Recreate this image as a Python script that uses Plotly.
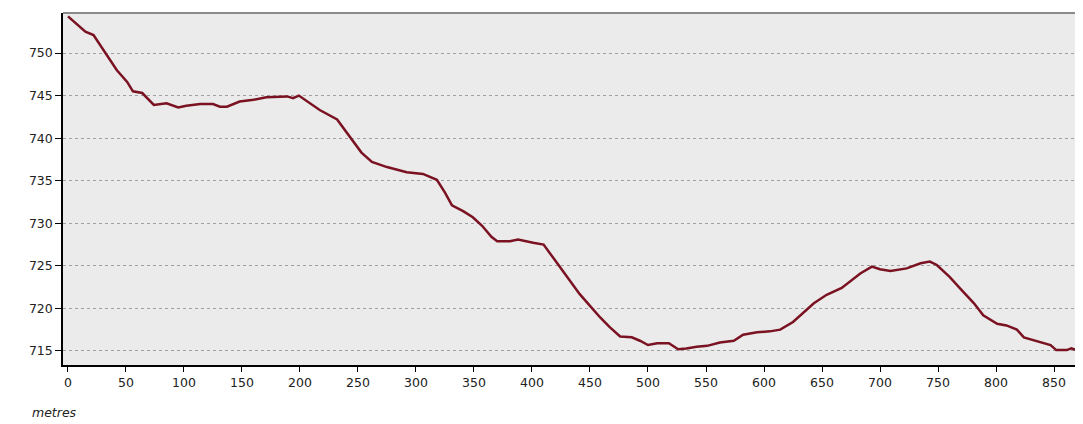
import plotly.graph_objects as go

LINE_RED = "#7a1222"
PLOT_BG = "#ebebeb"
GRID = "#a0a0a0"
TEXT = "#222222"

distance_m = [
    0, 15, 22, 30, 42, 51, 56, 64, 74, 85, 95, 102, 114, 125, 131, 137, 148, 160,
    171, 189, 194, 199, 207, 217, 232, 246, 253, 262, 275, 292, 306, 318, 325, 331,
    341, 349, 357, 365, 370, 381, 388, 401, 410, 418, 430, 441, 450, 459, 467, 476,
    486, 493, 500, 508, 518, 526, 533, 542, 551, 562, 574, 582, 594, 605, 614, 625,
    643, 654, 667, 674, 683, 693, 700, 709, 723, 735, 743, 749, 760, 770, 781, 789,
    801, 809, 818, 824, 835, 842, 847, 852, 861, 865, 874,
]
elevation_m = [
    754.3, 752.5, 752.1, 750.4, 748.0, 746.6, 745.5, 745.3, 743.9, 744.1, 743.6, 743.8,
    744.0, 744.0, 743.7, 743.7, 744.3, 744.5, 744.8, 744.9, 744.7, 745.0, 744.2, 743.3,
    742.2, 739.5, 738.3, 737.2, 736.6, 736.0, 735.8, 735.1, 733.6, 732.1, 731.4, 730.7,
    729.7, 728.4, 727.9, 727.9, 728.1, 727.7, 727.5, 726.0, 723.7, 721.7, 720.3, 718.9,
    717.8, 716.7, 716.6, 716.2, 715.7, 715.9, 715.9, 715.2, 715.3, 715.5, 715.6, 716.0,
    716.2, 716.9, 717.2, 717.3, 717.5, 718.4, 720.6, 721.6, 722.4, 723.1, 724.1, 724.9,
    724.6, 724.4, 724.7, 725.3, 725.5, 725.1, 723.7, 722.2, 720.6, 719.2, 718.2, 718.0,
    717.5, 716.6, 716.2, 715.9, 715.7, 715.1, 715.1, 715.3, 714.9,
]
x_ticks = list(range(0, 851, 50))
y_ticks = [715, 720, 725, 730, 735, 740, 745, 750]

fig = go.Figure()
fig.add_trace(go.Scatter(
    x=distance_m,
    y=elevation_m,
    mode="lines",
    line=dict(color=LINE_RED, width=2.5),
    hoverinfo="skip",
))

# page body keeps an 8px margin, so the figure is sized to fit inside it
fig.update_layout(
    width=1075,
    height=416,
    margin=dict(l=55, r=0, t=5, b=59),
    paper_bgcolor="white",
    plot_bgcolor=PLOT_BG,
    showlegend=False,
    font=dict(family="DejaVu Sans", size=12.5, color=TEXT),
    xaxis=dict(
        range=[-4.3, 875],
        tickvals=x_ticks,
        showgrid=False,
        zeroline=False,
        showline=True,
        linecolor="black",
        linewidth=1.5,
        ticks="outside",
        ticklen=5,
        tickcolor="black",
    ),
    yaxis=dict(
        range=[713.35, 754.7],
        tickvals=y_ticks,
        showgrid=True,
        gridcolor=GRID,
        griddash="dot",
        gridwidth=1,
        zeroline=False,
        showline=True,
        linecolor="black",
        linewidth=1.5,
        ticks="outside",
        ticklen=6,
        tickcolor="black",
    ),
    shapes=[dict(
        type="line", xref="paper", yref="paper",
        x0=0, x1=1, y0=1, y1=1,
        line=dict(color="#8a8a8a", width=2),
    )],
    annotations=[dict(
        text="<i>metres</i>",
        xref="paper", yref="paper",
        x=-0.032, y=-0.136,
        xanchor="left", yanchor="middle",
        showarrow=False,
        font=dict(size=12.5, color=TEXT),
    )],
)

fig.write_html("out.html")
